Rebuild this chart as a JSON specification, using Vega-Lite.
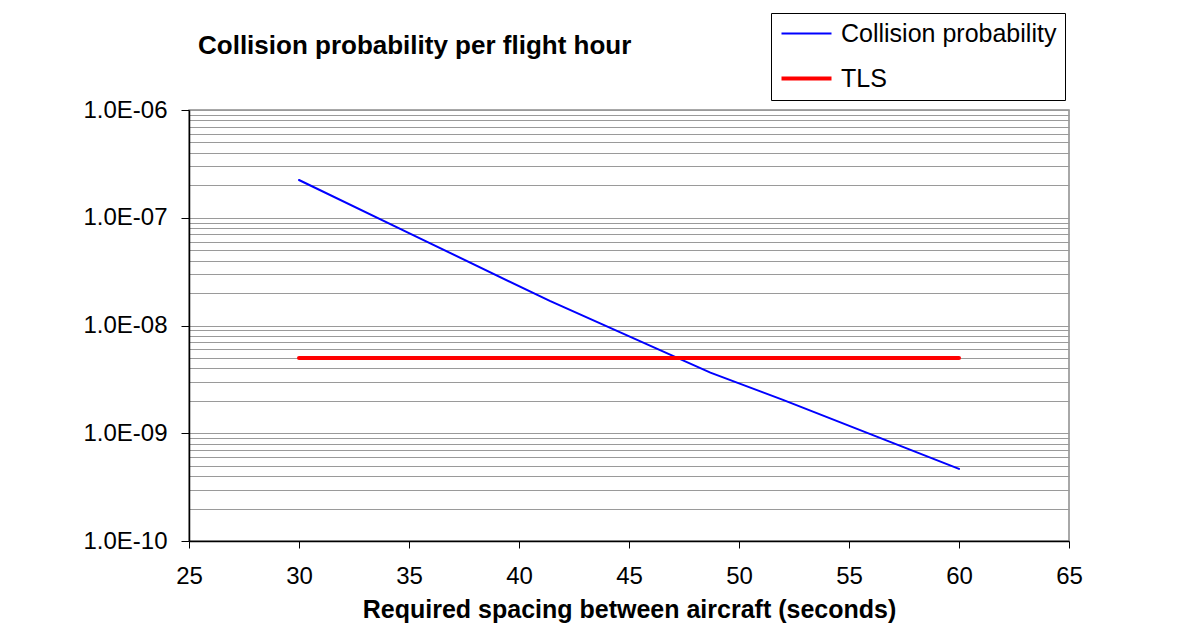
{
  "$schema": "https://vega.github.io/schema/vega-lite/v6.json",
  "autosize": {"type": "none"},
  "padding": {"left": 189, "top": 110, "right": 134, "bottom": 91},
  "width": 880,
  "height": 431,
  "background": "white",
  "config": {
    "font": "Liberation Sans",
    "view": {"stroke": "#8c8c8c", "strokeWidth": 1.5}
  },
  "title": {
    "text": "Collision probability per flight hour",
    "anchor": "start",
    "frame": "group",
    "dx": 9,
    "offset": -46,
    "fontSize": 26,
    "fontWeight": "bold",
    "font": "Liberation Sans",
    "color": "#000000"
  },
  "data": {
    "values": [
      {"series": "Collision probability", "spacing": 30, "prob": 2.24e-7},
      {"series": "Collision probability", "spacing": 35, "prob": 7.2e-8},
      {"series": "Collision probability", "spacing": 41.4, "prob": 1.69e-8},
      {"series": "Collision probability", "spacing": 48.7, "prob": 3.65e-9},
      {"series": "Collision probability", "spacing": 52, "prob": 2.04e-9},
      {"series": "Collision probability", "spacing": 60, "prob": 4.67e-10},
      {"series": "TLS", "spacing": 30, "prob": 5e-9},
      {"series": "TLS", "spacing": 60, "prob": 5e-9}
    ]
  },
  "mark": {"type": "line", "strokeCap": "round"},
  "encoding": {
    "x": {
      "field": "spacing",
      "type": "quantitative",
      "scale": {"domain": [25, 65], "nice": false, "zero": false},
      "axis": {
        "title": "Required spacing between aircraft (seconds)",
        "titleFontSize": 25,
        "titleFontWeight": "bold",
        "titleColor": "#000000",
        "titlePadding": 9,
        "values": [25, 30, 35, 40, 45, 50, 55, 60, 65],
        "grid": false,
        "tickSize": 7,
        "tickColor": "#000000",
        "domainColor": "#000000",
        "domainWidth": 1.5,
        "labelFontSize": 24,
        "labelColor": "#000000",
        "labelPadding": 16,
        "labelFlush": false
      }
    },
    "y": {
      "field": "prob",
      "type": "quantitative",
      "scale": {"type": "log", "domain": [1e-10, 1e-6], "nice": false},
      "axis": {
        "title": null,
        "values": [1e-10, 2e-10, 3e-10, 4e-10, 5e-10, 6e-10, 7e-10, 8e-10, 9e-10,
                   1e-9, 2e-9, 3e-9, 4e-9, 5e-9, 6e-9, 7e-9, 8e-9, 9e-9,
                   1e-8, 2e-8, 3e-8, 4e-8, 5e-8, 6e-8, 7e-8, 8e-8, 9e-8,
                   1e-7, 2e-7, 3e-7, 4e-7, 5e-7, 6e-7, 7e-7, 8e-7, 9e-7, 1e-6],
        "grid": true,
        "gridColor": "#9a9a9a",
        "gridWidth": 1,
        "tickSize": 8,
        "tickColor": "#000000",
        "tickOpacity": {
          "condition": {"test": "abs(log(datum.value)/LN10 - round(log(datum.value)/LN10)) < 0.01", "value": 1},
          "value": 0
        },
        "domainColor": "#000000",
        "domainWidth": 1.5,
        "labelExpr": "abs(log(datum.value)/LN10 - round(log(datum.value)/LN10)) < 0.01 ? '1.0E-' + (round(-log(datum.value)/LN10) < 10 ? '0' : '') + round(-log(datum.value)/LN10) : ''",
        "labelFontSize": 24,
        "labelColor": "#000000",
        "labelPadding": 14,
        "labelOverlap": false,
        "labelBound": false,
        "labelFlush": false
      }
    },
    "color": {
      "field": "series",
      "type": "nominal",
      "scale": {"domain": ["Collision probability", "TLS"], "range": ["#0000ff", "#ff0000"]},
      "legend": {
        "title": null,
        "orient": "none",
        "legendX": 582,
        "legendY": -97,
        "strokeColor": "#000000",
        "fillColor": "#ffffff",
        "padding": 8,
        "symbolType": "M-1,0H4",
        "symbolSize": 400,
        "labelFontSize": 25,
        "labelColor": "#000000",
        "labelOffset": 37,
        "labelLimit": 500,
        "rowPadding": 19
      }
    },
    "strokeWidth": {
      "field": "series",
      "type": "nominal",
      "scale": {"domain": ["Collision probability", "TLS"], "range": [2, 4]},
      "legend": {
        "title": null,
        "orient": "none",
        "legendX": 582,
        "legendY": -97,
        "strokeColor": "#000000",
        "fillColor": "#ffffff",
        "padding": 8,
        "symbolType": "M-1,0H4",
        "symbolSize": 400,
        "labelFontSize": 25,
        "labelColor": "#000000",
        "labelOffset": 37,
        "labelLimit": 500,
        "rowPadding": 19
      }
    }
  }
}
